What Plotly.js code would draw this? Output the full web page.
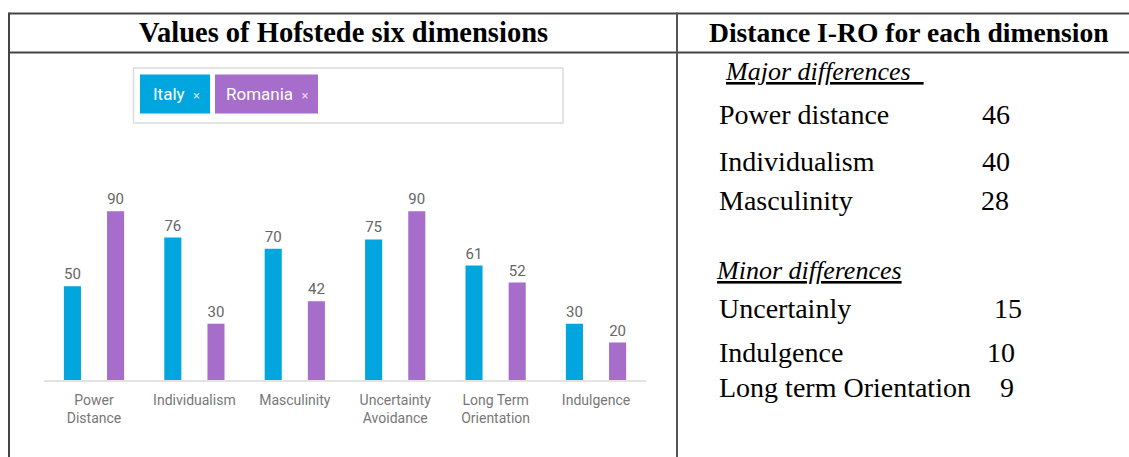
<!DOCTYPE html>
<html>
<head>
<meta charset="utf-8">
<script src="https://cdn.plot.ly/plotly-3.0.1.min.js"></script>
<style>html,body{margin:0;padding:0;background:#fff;}#chart{width:1129px;height:457px;}</style>
</head>
<body>
<div id="chart"></div>
<script>
// ---- data ----
const categories = ['Power<br>Distance', 'Individualism', 'Masculinity', 'Uncertainty<br>Avoidance', 'Long Term<br>Orientation', 'Indulgence'];
const italy = [50, 76, 70, 75, 61, 30];
const romania = [90, 30, 42, 90, 52, 20];
const seriesNames = ['Italy', 'Romania'];
const leftTitle = 'Values of Hofstede six dimensions';
const rightTitle = 'Distance I-RO for each dimension';
const majorTitle = 'Major differences';
const minorTitle = 'Minor differences';
const majorLabels = ['Power distance', 'Individualism', 'Masculinity'];
const majorValues = [46, 40, 28];
const minorLabels = ['Uncertainly', 'Indulgence', 'Long term Orientation'];
const minorValues = [15, 10, 9];

// ---- layout helpers (pixel -> paper) ----
const W = 1129, H = 457;
const px = x => x / W;
const py = y => 1 - y / H;
const italyColor = '#00a6dd';
const romaniaColor = '#a66dcb';
const serif = 'Liberation Serif, Times New Roman, serif';
const sans = 'Roboto, Arial, sans-serif';

const traces = [
  {type: 'bar', name: seriesNames[0], x: categories, y: italy, marker: {color: italyColor},
   width: 0.17, offset: -0.3, text: italy.map(String), textposition: 'outside', cliponaxis: false,
   constraintext: 'none',
   textfont: {family: sans, size: 15, color: '#666'}, hoverinfo: 'x+y'},
  {type: 'bar', name: seriesNames[1], x: categories, y: romania, marker: {color: romaniaColor},
   width: 0.17, offset: 0.13, text: romania.map(String), textposition: 'outside', cliponaxis: false,
   constraintext: 'none',
   textfont: {family: sans, size: 15, color: '#666'}, hoverinfo: 'x+y'}
];

const lineColor = '#444';
const shapes = [
  // table grid
  {type: 'line', xref: 'paper', yref: 'paper', x0: px(9), x1: px(1129), y0: py(13.5), y1: py(13.5), line: {color: lineColor, width: 2}},
  {type: 'line', xref: 'paper', yref: 'paper', x0: px(9), x1: px(1129), y0: py(52.5), y1: py(52.5), line: {color: lineColor, width: 2}},
  {type: 'line', xref: 'paper', yref: 'paper', x0: px(9), x1: px(9), y0: py(12.5), y1: py(457), line: {color: lineColor, width: 2}},
  {type: 'line', xref: 'paper', yref: 'paper', x0: px(677), x1: px(677), y0: py(12.5), y1: py(457), line: {color: '#555', width: 2}},
  // legend container
  {type: 'rect', xref: 'paper', yref: 'paper', x0: px(133.5), x1: px(563), y0: py(68), y1: py(123), line: {color: '#dcdcdc', width: 1.5}, fillcolor: 'rgba(0,0,0,0)'},
  // chips
  {type: 'rect', xref: 'paper', yref: 'paper', x0: px(140), x1: px(210), y0: py(74.5), y1: py(113.5), line: {width: 0}, fillcolor: italyColor},
  {type: 'rect', xref: 'paper', yref: 'paper', x0: px(215), x1: px(318), y0: py(74.5), y1: py(113.5), line: {width: 0}, fillcolor: romaniaColor}
];

const annotations = [];
function ann(text, x, y, opts) {
  annotations.push(Object.assign({text: text, xref: 'paper', yref: 'paper', x: px(x), y: py(y),
    showarrow: false, xanchor: 'left', yanchor: 'middle'}, opts));
}
ann('<b>' + leftTitle + '</b>', 343, 32, {xanchor: 'center', font: {family: serif, size: 28.5, color: '#000'}});
ann('<b>' + rightTitle + '</b>', 908.5, 32, {xanchor: 'center', font: {family: serif, size: 27.6, color: '#000'}});
// chips text
const xMark = '  <span style="font-size:13px;color:rgba(255,255,255,0.75)">\u00d7</span>';
ann(seriesNames[0] + xMark, 176, 94, {xanchor: 'center', font: {family: sans, size: 17, color: '#fff'}});
ann(seriesNames[1] + xMark, 267, 94, {xanchor: 'center', font: {family: sans, size: 17, color: '#fff'}});

// right column
const secFont = {family: serif, size: 26, color: '#000'};
const rowFont = {family: serif, size: 28, color: '#000'};
ann('<u><i>' + majorTitle + '\u00a0\u00a0</i></u>', 723, 71, {font: secFont});
const majorY = [114, 161, 200];
const majorNumX = [980, 980, 979];
majorLabels.forEach((t, i) => {
  ann(t, 717, majorY[i], {font: rowFont});
  ann(String(majorValues[i]), majorNumX[i], majorY[i], {font: rowFont});
});
ann('<u><i>' + minorTitle + '</i></u>', 714, 270, {font: secFont});
const minorY = [308, 352, 387];
const minorNumX = [992, 985, 998];
minorLabels.forEach((t, i) => {
  ann(t, 717, minorY[i], {font: rowFont});
  ann(String(minorValues[i]), minorNumX[i], minorY[i], {font: rowFont});
});

const layout = {
  width: W, height: H,
  margin: {l: 0, r: 0, t: 0, b: 0},
  paper_bgcolor: '#fff', plot_bgcolor: 'rgba(0,0,0,0)',
  showlegend: false,
  barmode: 'group',
  xaxis: {domain: [px(43.8), px(646.2)], range: [-0.5, 5.5], type: 'category',
    showline: true, linecolor: '#e3e3e3', linewidth: 2, ticks: '', showgrid: false, zeroline: false,
    ticklabelstandoff: 6,
    tickfont: {family: sans, size: 14, color: '#777'}},
  yaxis: {domain: [py(380), py(192.5)], range: [0, 100], visible: false, showgrid: false, zeroline: false},
  shapes: shapes,
  annotations: annotations
};

Plotly.newPlot('chart', traces, layout, {displayModeBar: false, staticPlot: true});
</script>
</body>
</html>
